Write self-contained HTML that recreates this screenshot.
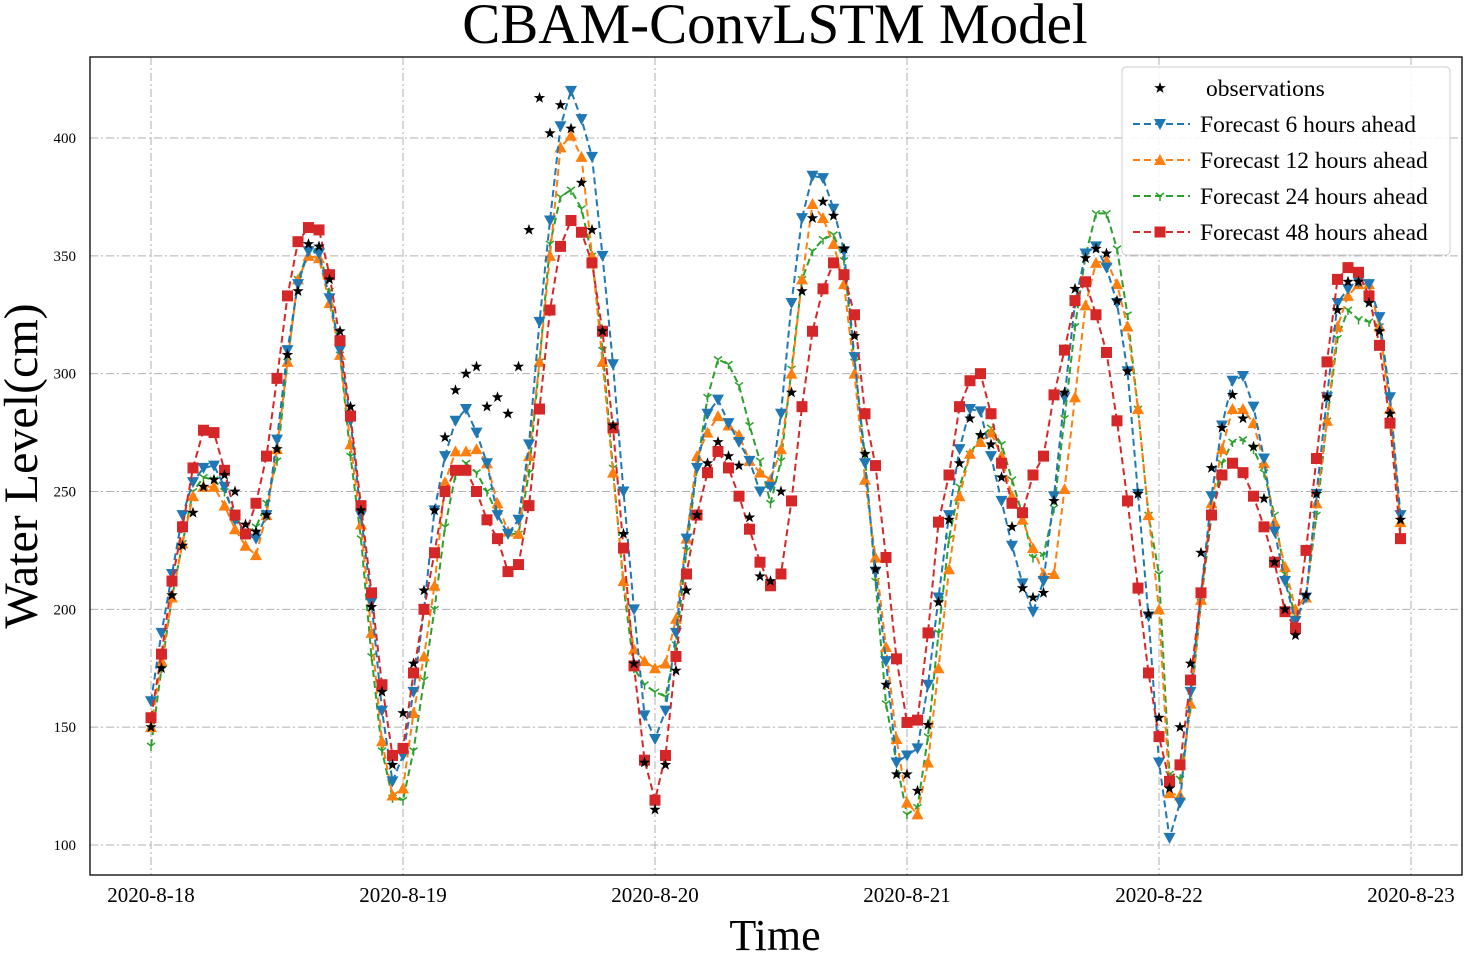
<!DOCTYPE html>
<html><head><meta charset="utf-8"><style>
body{margin:0;background:#fff;}
svg{display:block;font-family:"Liberation Serif",serif;}
</style></head><body>
<svg id="chart" width="1464" height="953">
<text x="775" y="43" text-anchor="middle" font-size="57">CBAM-ConvLSTM Model</text>
<text x="775" y="950" text-anchor="middle" font-size="44">Time</text>
<text transform="translate(37,466) rotate(-90)" text-anchor="middle" font-size="48">Water Level(cm)</text>
<g id="grid"></g><g id="series"></g>
<rect x="90" y="57" width="1372" height="818" fill="none" stroke="#000" stroke-width="1.3"/>
<g id="legend"></g>
</svg>
<script>
const xTicks=["2020-8-18","2020-8-19","2020-8-20","2020-8-21","2020-8-22","2020-8-23"];
const yTicks=[100,150,200,250,300,350,400];
const obs=[150,175,206,227,241,252,255,257,250,236,233,240,268,308,335,355,354,340,318,286,242,201,165,134,
156,177,208,242,273,293,300,303,286,290,283,303,361,417,402,414,404,381,361,318,278,232,177,135,
115,134,174,208,240,262,271,265,261,239,214,212,250,292,335,366,373,367,353,316,266,217,168,130,
130,123,151,203,238,262,281,274,270,256,235,209,205,207,246,292,336,349,353,351,331,301,249,198,
154,124,150,177,224,260,277,291,281,269,247,220,200,189,206,249,290,327,339,339,330,318,283,238];
const f6=[161,190,215,240,254,260,261,252,238,232,230,240,272,310,338,352,351,332,310,280,240,203,157,127,
138,165,200,242,265,280,285,275,262,240,232,238,270,322,365,405,420,408,392,350,304,250,200,155,
145,157,190,230,260,283,289,279,271,263,250,252,283,330,366,384,383,370,352,307,262,216,178,135,
138,141,168,205,240,268,285,284,265,246,227,211,199,212,248,290,330,351,354,345,330,301,249,197,
135,103,118,165,207,248,278,297,299,286,264,233,212,195,205,249,290,330,336,339,338,324,290,240];
const f12=[150,178,205,228,248,252,252,244,234,227,223,240,268,305,340,350,349,330,308,270,236,190,144,121,
124,156,180,210,254,267,267,268,262,245,233,232,265,305,350,396,401,392,350,305,258,212,183,178,
175,177,196,230,265,275,282,278,274,263,258,255,268,300,340,372,366,355,338,300,255,222,184,145,
118,113,135,175,217,248,266,271,275,265,248,238,226,215,215,251,290,329,347,348,338,320,285,240,
200,122,121,160,204,245,268,285,285,279,262,237,218,200,205,245,280,320,333,338,338,320,285,237];
const f24=[142,175,205,228,250,256,255,250,240,232,235,245,263,305,340,352,352,335,308,265,230,180,140,120,
119,140,170,200,235,257,262,258,250,240,232,232,258,305,355,375,378,370,350,310,260,210,175,168,
165,163,185,225,260,290,306,304,295,278,263,245,263,302,340,352,357,359,348,305,265,212,160,135,
113,116,146,190,230,252,266,273,277,270,255,240,222,223,243,281,320,350,368,368,353,325,285,240,
215,130,128,158,203,240,262,271,272,268,258,240,215,196,205,240,280,315,327,323,322,320,290,235];
const f48=[154,181,212,235,260,276,275,259,240,232,245,265,298,333,356,362,361,342,314,282,244,207,168,138,
141,173,200,224,250,259,259,250,238,230,216,219,244,285,327,354,365,360,347,318,277,226,176,136,
119,138,180,215,240,258,267,260,248,234,220,210,215,246,286,318,336,347,342,325,283,261,222,179,
152,153,190,237,257,286,297,300,283,262,245,241,257,265,291,310,331,339,325,309,280,246,209,173,
146,127,134,170,207,240,257,262,258,248,235,220,199,192,225,264,305,340,345,343,333,312,279,230];

const NS="http://www.w3.org/2000/svg";
const X0=151,DAY=252,Y0=845,YS=707/300;
const xs=h=>X0+h*DAY/24;
const ys=v=>Y0-(v-100)*YS;
function mk(t,a,p){const e=document.createElementNS(NS,t);for(const k in a)e.setAttribute(k,a[k]);p.appendChild(e);return e;}
const grid=document.getElementById('grid');
yTicks.forEach(v=>{
  const l=mk('line',{x1:90,x2:1462,y1:ys(v),y2:ys(v),stroke:'#b0b0b0','stroke-dasharray':'8 3 2 3','stroke-width':1},grid);
  
  
  const t=mk('text',{x:76,y:ys(v)+5,'text-anchor':'end','font-size':15},grid);t.textContent=v;
  
  
});
xTicks.forEach((s,i)=>{
  const x=xs(i*24);
  const l=mk('line',{x1:x,x2:x,y1:57,y2:875,stroke:'#b0b0b0','stroke-dasharray':'8 3 2 3','stroke-width':1},grid);
  
  
  const t=mk('text',{x:x,y:902,'text-anchor':'middle','font-size':21},grid);t.textContent=s;
  
  
});
function marker(type,x,y,c,g){
  let e;
  if(type==='sq') e=mk('rect',{x:x-5.5,y:y-5.5,width:11,height:11,fill:c},g);
  else if(type==='dn') e=mk('polygon',{points:`${x-6},${y-5} ${x+6},${y-5} ${x},${y+6}`,fill:c},g);
  else if(type==='up') e=mk('polygon',{points:`${x-6},${y+5} ${x+6},${y+5} ${x},${y-6}`,fill:c},g);
  else if(type==='tri') e=mk('path',{d:`M${x},${y} V${y+5} M${x},${y} L${x-4},${y-3} M${x},${y} L${x+4},${y-3}`,stroke:c,'stroke-width':1.5,fill:'none'},g);
  else {let p=[];for(let k=0;k<10;k++){const r=k%2?2.4:6,a=-Math.PI/2+k*Math.PI/5;p.push((x+r*Math.cos(a)).toFixed(1)+','+(y+r*Math.sin(a)).toFixed(1));}
    e=mk('polygon',{points:p.join(' '),fill:c},g);}
  return e;
}
const ser=document.getElementById('series');
const defs=[[f24,'#2ca02c','tri','series-forecast-24h'],[f12,'#ff7f0e','up','series-forecast-12h'],[f6,'#1f77b4','dn','series-forecast-6h'],[f48,'#d62728','sq','series-forecast-48h']];
defs.forEach(([d,c,m,n])=>{
  const g=mk('g',{},ser);
  
  
  mk('polyline',{points:d.map((v,i)=>xs(i)+','+ys(v)).join(' '),fill:'none',stroke:c,'stroke-width':2,'stroke-dasharray':'7 4'},g);
  d.forEach((v,i)=>{const e=marker(m,xs(i),ys(v),c,g);
    
    });
});
const og=mk('g',{},ser);


obs.forEach((v,i)=>{const e=marker('star',xs(i),ys(v),'#000',og);
  
  });
const lg=document.getElementById('legend');


mk('rect',{x:1122,y:67,width:328,height:188,rx:4,fill:'#fff','fill-opacity':0.85,stroke:'#ccc'},lg);
const items=[['observations','#000','star',false],['Forecast 6 hours ahead','#1f77b4','dn',true],['Forecast 12 hours ahead','#ff7f0e','up',true],['Forecast 24 hours ahead','#2ca02c','tri',true],['Forecast 48 hours ahead','#d62728','sq',true]];
items.forEach(([t,c,m,ln],i)=>{
  const y=88+i*36;
  const g=mk('g',{},lg);
  
  
  if(ln) mk('line',{x1:1133,x2:1190,y1:y,y2:y,stroke:c,'stroke-width':2,'stroke-dasharray':'7 4'},g);
  marker(m,1160,y,c,g);
  const tx=mk('text',{x:ln?1200:1206,y:y+8,'font-size':23.5},g);tx.textContent=t;
});
</script>
</body></html>
